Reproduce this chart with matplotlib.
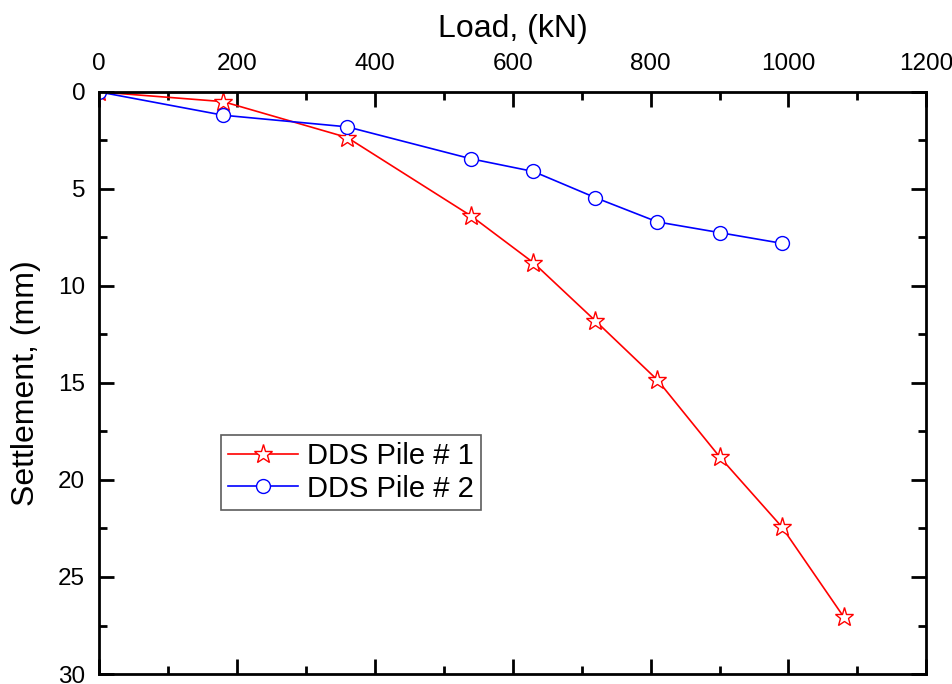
import matplotlib
matplotlib.use("Agg")
import matplotlib.pyplot as plt
from matplotlib.ticker import MultipleLocator

plt.rcParams['font.family'] = ['Liberation Sans', 'DejaVu Sans']

# -----------------------------
# Data
# -----------------------------
load_pile1 = [0, 180, 360, 540, 630, 720, 810, 900, 990, 1080]
settle_pile1 = [0, 0.5, 2.35, 6.4, 8.8, 11.8, 14.85, 18.8, 22.4, 27.05]

load_pile2 = [0, 180, 360, 540, 630, 720, 810, 900, 990]
settle_pile2 = [0, 1.2, 1.8, 3.45, 4.1, 5.45, 6.7, 7.25, 7.8]

labels = ["DDS Pile # 1", "DDS Pile # 2"]

fig = plt.figure(figsize=(9.53, 6.84), dpi=100)
ax = fig.add_axes([0.104, 0.0146, 0.868, 0.851])

ax.plot(load_pile1, settle_pile1, color='red', lw=1.2, marker='*',
        markersize=14, markerfacecolor='white', markeredgecolor='red',
        markeredgewidth=1.0, label=labels[0])
ax.plot(load_pile2, settle_pile2, color='blue', lw=1.2, marker='o',
        markersize=10, markerfacecolor='white', markeredgecolor='blue',
        markeredgewidth=1.0, label=labels[1])

ax.set_xlim(0, 1200)
ax.set_ylim(30, 0)
ax.xaxis.set_major_locator(MultipleLocator(200))
ax.xaxis.set_minor_locator(MultipleLocator(100))
ax.yaxis.set_major_locator(MultipleLocator(5))
ax.yaxis.set_minor_locator(MultipleLocator(2.5))

ax.xaxis.tick_top()
ax.xaxis.set_label_position('top')
ax.tick_params(which='both', direction='in', top=True, bottom=True,
               left=True, right=True, labeltop=True, labelbottom=False,
               labelleft=True, labelright=False, width=2)
ax.tick_params(which='major', length=11, labelsize=17.5)
ax.tick_params(axis='x', which='major', pad=12)
ax.tick_params(axis='y', which='major', pad=10)
ax.tick_params(which='minor', length=6)

for sp in ax.spines.values():
    sp.set_linewidth(2)

ax.set_xlabel("Load, (kN)", fontsize=23, labelpad=12)
ax.set_ylabel("Settlement, (mm)", fontsize=23, labelpad=12)

leg = ax.legend(loc='lower left', bbox_to_anchor=(0.147, 0.282),
                fontsize=21, frameon=True, fancybox=False,
                handlelength=2.4, handletextpad=0.3, borderpad=0.25,
                labelspacing=0.15, borderaxespad=0)
leg.get_frame().set_edgecolor('#333333')
leg.get_frame().set_linewidth(1.2)

fig.savefig("out.png", dpi=100)
